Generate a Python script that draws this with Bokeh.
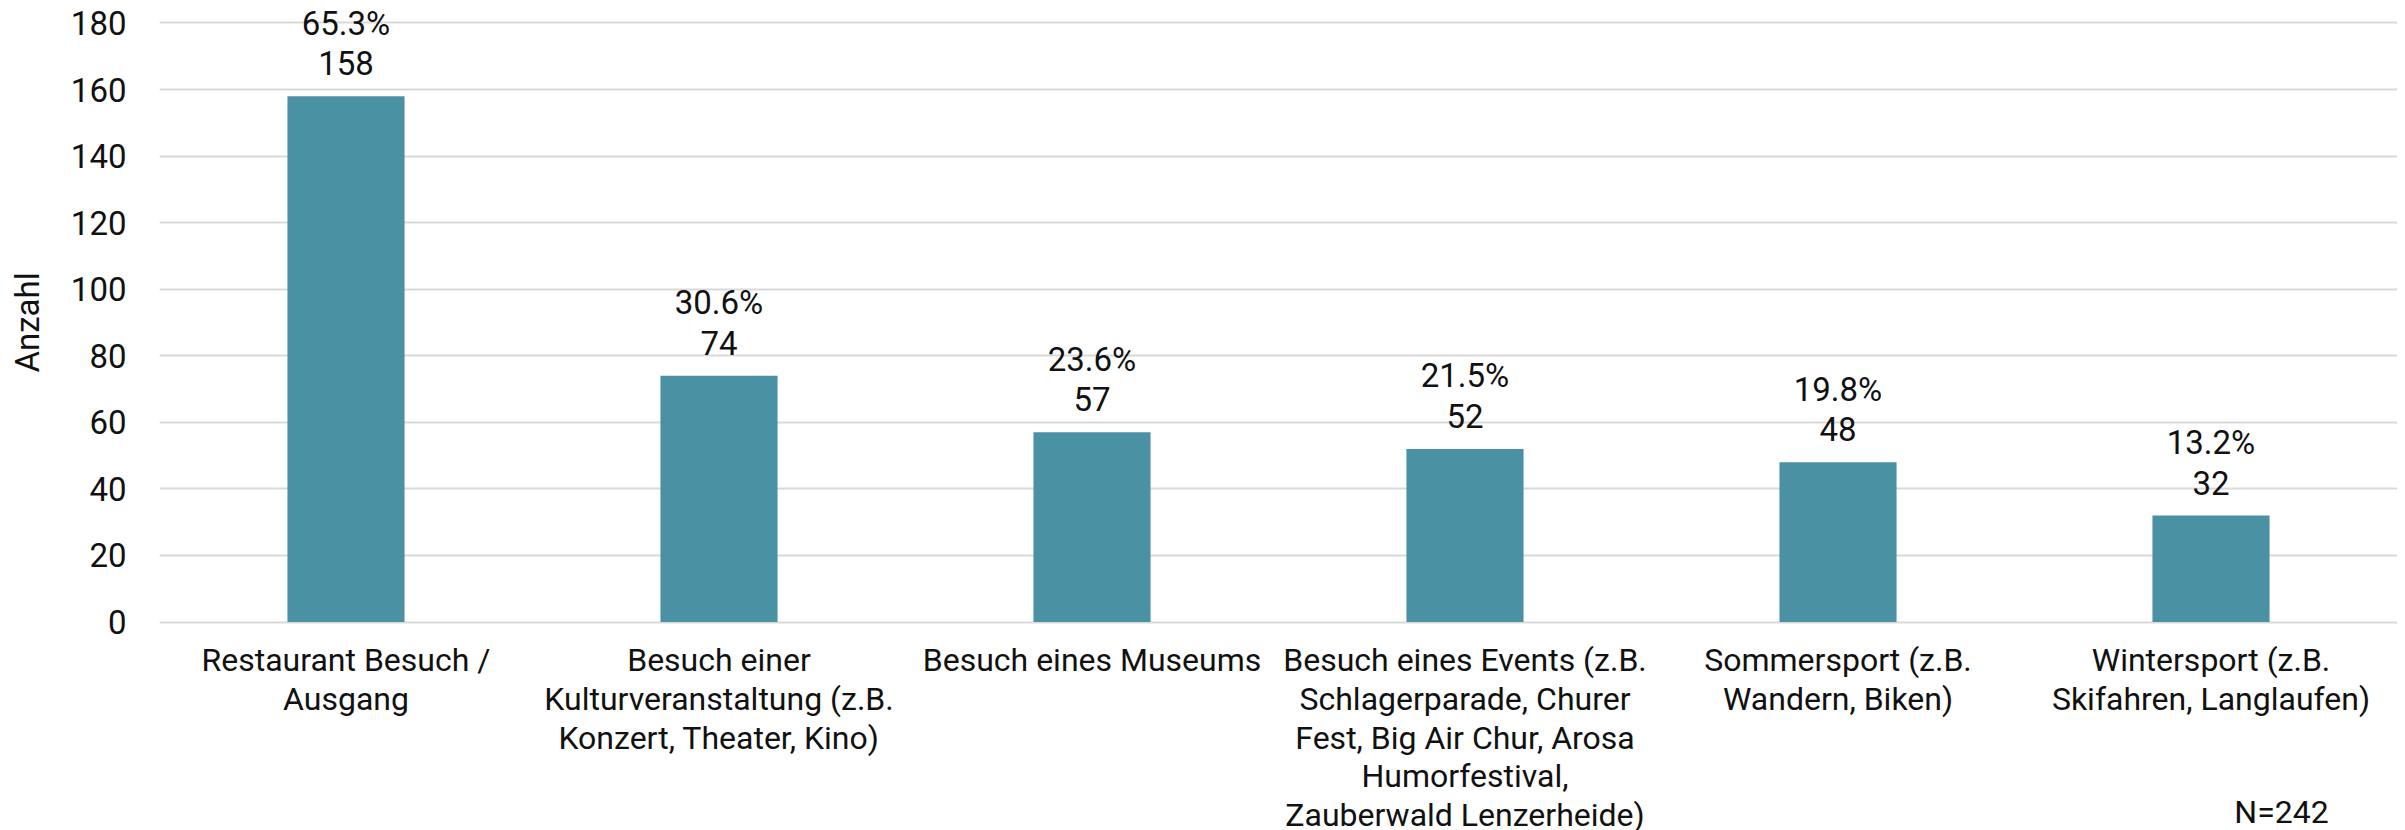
import math
from bokeh.plotting import figure
from bokeh.layouts import row
from bokeh.models import ColumnDataSource, FactorRange, Range1d, FixedTicker, Label
from bokeh.core.properties import value
from bokeh.embed import file_html
from bokeh.resources import INLINE

categories = [
    "Restaurant Besuch /\nAusgang",
    "Besuch einer\nKulturveranstaltung (z.B.\nKonzert, Theater, Kino)",
    "Besuch eines Museums",
    "Besuch eines Events (z.B.\nSchlagerparade, Churer\nFest, Big Air Chur, Arosa\nHumorfestival,\nZauberwald Lenzerheide)",
    "Sommersport (z.B.\nWandern, Biken)",
    "Wintersport (z.B.\nSkifahren, Langlaufen)",
]
counts = [158, 74, 57, 52, 48, 32]
percents = ["65.3%", "30.6%", "23.6%", "21.5%", "19.8%", "13.2%"]
y_ticks = [0, 20, 40, 60, 80, 100, 120, 140, 160, 180]
y_title = "Anzahl"
n_label = "N=242"

FONT = "Roboto"
TXT = "#111111"
TITLE_W = 60

src = ColumnDataSource(dict(cat=categories, count=counts, zero=[0] * len(counts),
                            count_txt=[str(c) for c in counts], pct=percents))
yr = Range1d(-62.65, 186.75)

p = figure(x_range=FactorRange(factors=categories), y_range=yr,
           width=2397 - TITLE_W, height=830, output_backend="svg", toolbar_location=None,
           min_border_left=159 - TITLE_W, min_border_right=0, min_border_top=0, min_border_bottom=0)
p.outline_line_color = None
p.background_fill_color = "white"

p.vbar(x="cat", top="count", width=0.314, source=src, color="#4b91a4", line_color=None)

# value labels
p.text(x="cat", y="count", text="count_txt", source=src, y_offset=-33,
       text_align="center", text_baseline="middle", text_font=value(FONT),
       text_font_size="33px", text_color=TXT)
p.text(x="cat", y="count", text="pct", source=src, y_offset=-73,
       text_align="center", text_baseline="middle", text_font=value(FONT),
       text_font_size="33px", text_color=TXT)

# category labels (multi-line), placed below the zero line
p.text(x="cat", y="zero", text="cat", source=src, y_offset=19,
       text_align="center", text_baseline="top", text_font=value(FONT),
       text_font_size="32px", text_line_height=1.02, text_color=TXT)

# grid
p.xgrid.grid_line_color = None
p.ygrid.grid_line_color = "#d9d9d9"
p.ygrid.grid_line_width = 2
p.yaxis.ticker = FixedTicker(ticks=y_ticks)

# y axis
p.yaxis.axis_line_color = None
p.yaxis.major_tick_line_color = None
p.yaxis.minor_tick_line_color = None
p.yaxis.major_tick_out = 0
p.yaxis.major_label_standoff = 33
p.yaxis.major_label_text_font = FONT
p.yaxis.major_label_text_font_size = "33px"
p.yaxis.major_label_text_color = TXT

p.xaxis.visible = False

p.add_layout(Label(x=2122, y=19, x_units="screen", y_units="screen", text=n_label,
                   text_align="center", text_baseline="middle", text_font=FONT,
                   text_font_size="32px", text_color=TXT))

# narrow strip on the left carrying the y-axis title, centred on the 0..180 scale
t = figure(x_range=Range1d(0, TITLE_W), y_range=yr, width=TITLE_W, height=830,
           output_backend="svg", toolbar_location=None,
           min_border_left=0, min_border_right=0, min_border_top=0, min_border_bottom=0)
t.axis.visible = False
t.grid.visible = False
t.outline_line_color = None
t.add_layout(Label(x=27, y=90, x_units="data", y_units="data", text=y_title,
                   angle=math.pi / 2, text_align="center", text_baseline="middle",
                   text_font=FONT, text_font_size="33px", text_color=TXT))

layout = row(t, p, spacing=0)

open("out.html", "w").write(file_html(layout, INLINE))
